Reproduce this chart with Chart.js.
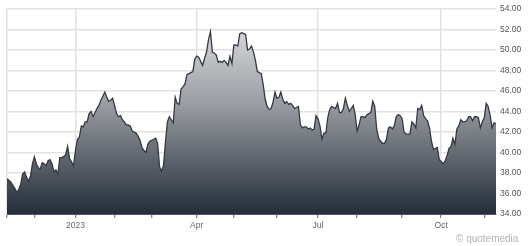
<!DOCTYPE html>
<html>
<head>
<meta charset="utf-8">
<script src="https://cdn.jsdelivr.net/npm/chart.js@4.4.0/dist/chart.umd.min.js"></script>
<style>
  body { margin: 0; background: #fff; }
  #wrap { position: relative; width: 530px; height: 246px; }
  #mark { position: absolute; left: 456px; top: 233px; font: 10px "Liberation Sans", Arial, sans-serif; color: #b4b4b4; }
</style>
</head>
<body>
<div id="wrap">
  <canvas id="priceChart" width="530" height="246"></canvas>
  <div id="mark">© quotemedia</div>
</div>
<script>
// daily closes, mid Nov 2022 to early Nov 2023
var closes = [
    37.43, 37.3, 37.1, 36.8, 36.5, 36.1, 36.4, 36.9, 37.9, 38.1,
    37.6, 37.2, 37.7, 38.9, 39.6, 38.9, 38.5, 38.4, 39.0, 38.9,
    38.7, 39.2, 39.3, 38.9, 38.1, 38.3, 37.9, 39.5, 39.5, 39.6,
    39.8, 40.6, 39.4, 39.1, 38.7, 40.2, 41.3, 41.5, 42.6, 42.5,
    43.0, 43.0, 43.8, 44.0, 43.5, 43.9, 44.3, 44.6, 45.1, 45.5,
    45.9, 45.4, 45.0, 45.1, 45.3, 44.6, 43.8, 43.5, 43.6, 43.2,
    43.0, 42.7, 42.7, 42.6, 42.1, 42.0, 41.9, 41.6, 41.2, 40.5,
    40.2, 40.0, 40.8, 41.1, 41.2, 41.3, 41.4, 40.9, 38.6, 38.2,
    38.7, 41.0, 43.0, 43.5, 43.2, 42.9, 45.4, 44.8, 44.7, 46.2,
    46.4, 46.7, 47.6, 47.7, 47.8, 47.9, 49.1, 49.4, 49.3, 48.9,
    48.5, 49.2, 49.8, 51.0, 51.8, 49.8, 49.7, 49.5, 48.8, 48.9,
    48.8, 49.0, 48.8, 48.5, 49.4, 48.7, 50.5, 50.5, 50.4, 51.6,
    51.7, 51.6, 51.5, 50.0, 50.1, 50.4, 49.8, 49.0, 47.9, 47.8,
    47.7, 46.6, 45.2, 44.5, 44.2, 44.3, 44.9, 45.9, 45.3, 45.4,
    45.9, 45.2, 44.8, 44.96, 44.7, 44.8, 44.6, 44.3, 44.4, 44.5,
    42.7, 42.4, 42.5, 42.5, 42.3, 42.4, 42.2, 42.3, 43.6, 43.3,
    42.6, 41.3, 41.9, 41.9, 43.4, 44.2, 44.5, 44.4, 44.3, 44.8,
    43.9, 43.9, 44.3, 45.3, 44.6, 44.0, 44.3, 44.6, 43.7, 42.1,
    42.7, 43.5, 43.5, 43.4, 43.7, 43.8, 43.9, 45.0, 44.5, 42.3,
    41.4, 41.1, 40.9, 40.9, 41.3, 42.4, 42.5, 42.3, 42.6, 43.5,
    43.7, 43.6, 43.3, 42.0, 41.8, 41.8, 41.8, 43.0, 42.8, 42.4,
    44.3, 44.2, 44.6, 43.6, 43.3, 43.1, 42.4, 41.1, 40.3, 40.4,
    40.5, 39.3, 39.1, 38.9, 39.2, 39.7, 40.4, 40.6, 41.4, 40.8,
    42.3, 42.6, 43.2, 43.0, 43.0, 43.1, 43.5, 43.5, 43.1, 43.5,
    43.5, 43.4, 42.4, 43.0, 43.4, 44.8, 44.5, 43.6, 42.4, 42.9,
    42.8
];

// first trading day of each month, as index into closes
var monthStart = [0, 14, 35, 55, 74, 97, 116, 138, 159, 179, 202, 222, 244];
var monthText = ['', '', '2023', '', '', 'Apr', '', '', 'Jul', '', '', 'Oct', ''];
var gridAt = [0, 35, 97, 159, 222];

var yMin = 34, yMax = 54, yStep = 2;

var labels = closes.map(function (v, i) { return i; });

var fillGradient = function (context) {
    var area = context.chart.chartArea;
    if (!area) return '#888';
    var g = context.chart.ctx.createLinearGradient(0, area.top, 0, area.bottom);
    g.addColorStop(0, '#e6e7e8');
    g.addColorStop(0.45, '#9c9fa4');
    g.addColorStop(1, '#242d39');
    return g;
};

new Chart(document.getElementById('priceChart'), {
    type: 'line',
    data: {
        labels: labels,
        datasets: [{
            data: closes,
            borderColor: '#323943',
            borderWidth: 1.3,
            backgroundColor: fillGradient,
            fill: 'start',
            pointRadius: 0,
            tension: 0
        }]
    },
    options: {
        responsive: false,
        animation: false,
        devicePixelRatio: 1,
        layout: { padding: { left: 7, top: 6, right: 0, bottom: 0 } },
        plugins: { legend: { display: false }, tooltip: { enabled: false } },
        scales: {
            x: {
                type: 'category',
                afterFit: function (scale) { scale.height = 32; },
                border: { color: '#555', width: 1 },
                grid: {
                    color: function (ctx) { return gridAt.indexOf(ctx.index) >= 0 ? '#e1e1e1' : 'rgba(0,0,0,0)'; },
                    tickColor: function (ctx) { return monthStart.indexOf(ctx.index) >= 0 ? '#666' : 'rgba(0,0,0,0)'; },
                    lineWidth: 1.5,
                    tickWidth: 1,
                    tickLength: 4
                },
                ticks: {
                    autoSkip: false,
                    maxRotation: 0,
                    minRotation: 0,
                    padding: 3,
                    color: '#666',
                    font: { family: 'Liberation Sans', size: 8.5 },
                    callback: function (value, index) {
                        var k = monthStart.indexOf(index);
                        return k < 0 ? '' : monthText[k];
                    }
                }
            },
            y: {
                position: 'right',
                min: yMin,
                max: yMax,
                afterFit: function (scale) { scale.width = 34; },
                border: { display: false },
                grid: { color: '#e1e1e1', lineWidth: 1.5, drawTicks: false },
                ticks: {
                    stepSize: yStep,
                    padding: 4,
                    color: '#555',
                    font: { family: 'Liberation Sans', size: 8.5 },
                    callback: function (v) { return v.toFixed(2); }
                }
            }
        }
    }
});
</script>
</body>
</html>
